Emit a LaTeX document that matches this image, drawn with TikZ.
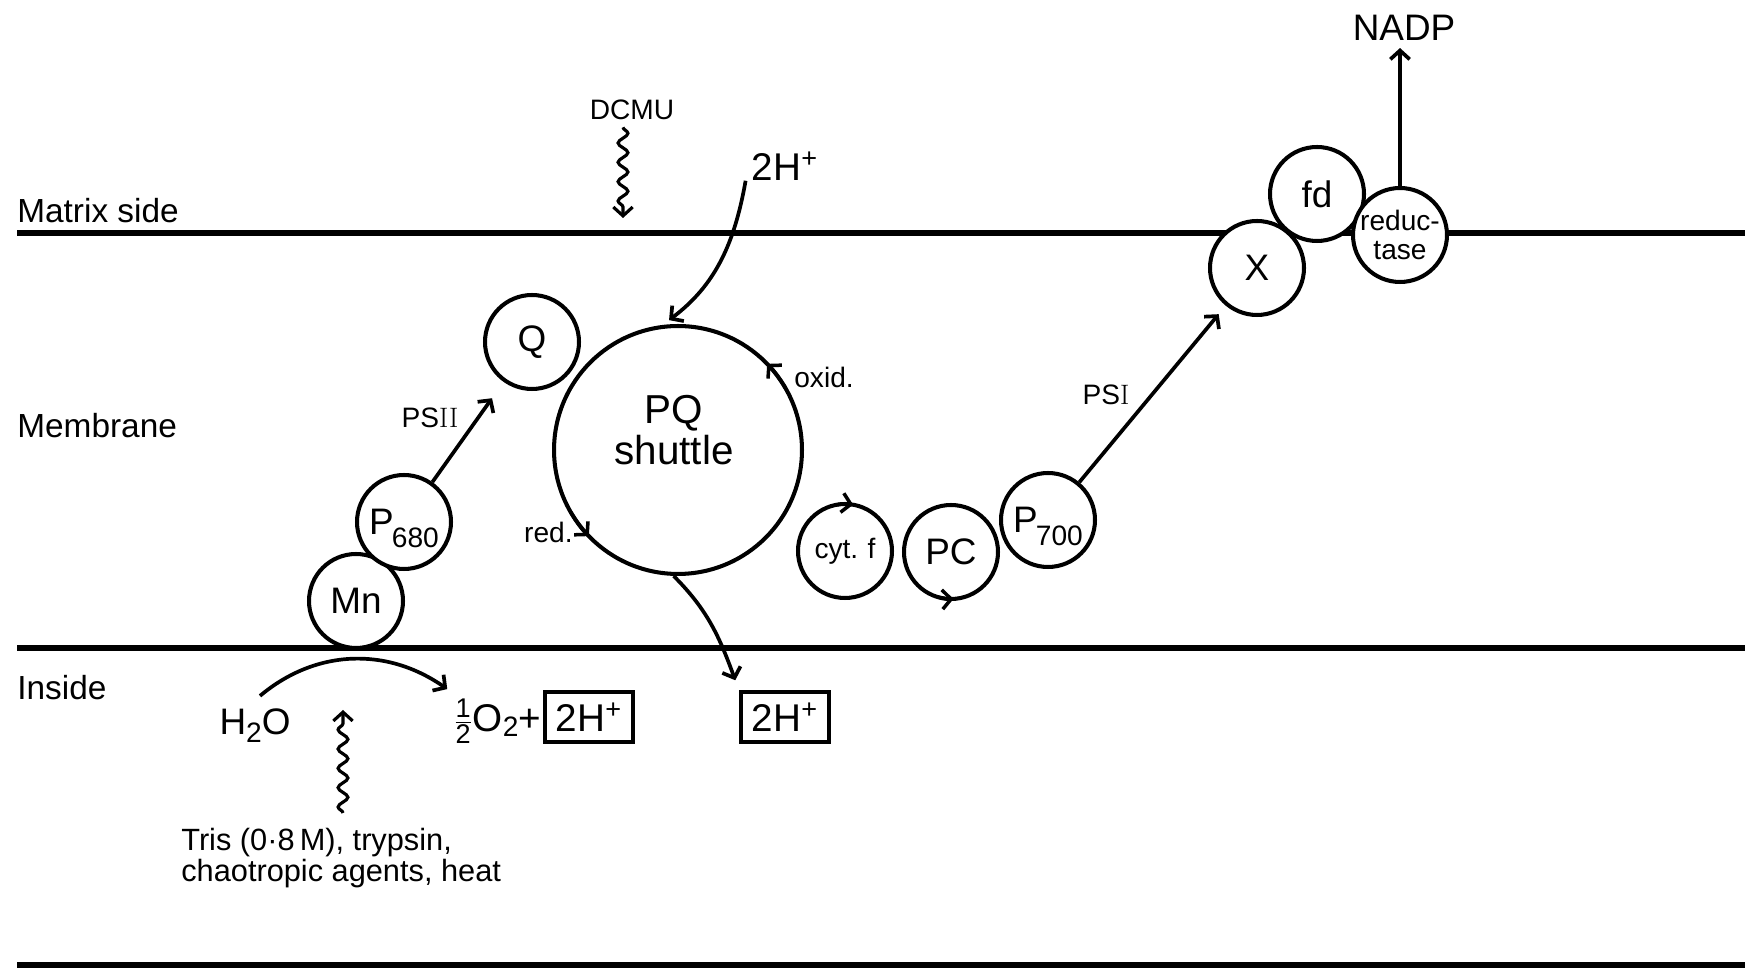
\documentclass[tikz,border=0pt]{standalone}
\usepackage{amsmath}
\usepackage{fontspec}
\setsansfont{Liberation Sans}
\usetikzlibrary{arrows.meta,positioning,calc,decorations.pathmorphing}

\newcommand{\fsz}[1]{\fontsize{#1}{#1}\selectfont}
\newcommand{\subidx}[2][7.5pt]{\smash{\raisebox{-#1}{\fsz{16}#2}}}
\newcommand{\romnum}[1]{{\rmfamily #1}}

\begin{document}
\begin{tikzpicture}[x=0.02cm,y=0.02cm,
  >={Straight Barb[length=5pt,width=11pt]},
  side/.style={font=\sffamily\fsz{19},inner sep=0,anchor=west},
  txt/.style={font=\sffamily\fsz{22},inner sep=0},
  sml/.style={font=\sffamily\fsz{16},inner sep=0},
  mol/.style={circle,draw,fill=white,line width=2.3pt,inner sep=0,minimum size=1.88cm,font=\sffamily\fsz{21}},
  memline/.style={line width=3pt},
  conn/.style={->,line width=2.1pt},
  chev/.style={->,line width=2pt},
  wavy/.style={->,line width=1.8pt,decorate,decoration={snake,amplitude=2.8pt,segment length=11pt,post length=5pt}},
  hbox/.style={draw,line width=2pt,inner sep=0,minimum width=1.76cm,minimum height=1cm,font=\sffamily\fsz{22}}]
  \useasboundingbox (0,0) rectangle (1759,970);
  % membrane and sides
  \draw[memline] (17,737) -- (1745,737);
  \draw[memline] (17,322) -- (1745,322);
  \draw[memline] (17,5) -- (1745,5);
  \node[side] (matrix) at (17,759) {Matrix side};
  \node[side] (membrane) at (17,544) {Membrane};
  \node[side] (inside) at (17,282) {Inside};

  % photosystem II
  \node[mol] (mn) at (356,369) {Mn};
  \node[mol] (p680) at (404,448) {P\kern-1pt\subidx{680}};
  \node[mol] (q) at (532,628) {Q};
  \draw[conn,shorten >=0.4cm] (p680) -- (q);
  \node[sml] (psii) at (430,552) {PS\romnum{II}};

  % DCMU
  \node[sml] (dcmu) at (632,860) {DCMU};
  \coordinate (dcmutip) at (623,752);
  \draw[wavy] ($(dcmu.south)+(-9,-7)$) -- (dcmutip);

  % plastoquinone pool
  \node[mol,minimum size=4.96cm] (pq) at (678,520) {};
  \node[txt,align=center,font=\sffamily\fsz{23}] (pqlbl) at (674,540) {PQ\\shuttle};
  \node[sml,anchor=west] (oxid) at (794,593) {oxid.};
  \node[sml,anchor=east] (redlbl) at (573,438) {red.};
  \draw[chev] ([shift={(30:124)}]pq.center) arc[start angle=30,end angle=44,radius=124];
  \draw[chev] ([shift={(210:124)}]pq.center) arc[start angle=210,end angle=224,radius=124];
  \node[txt] (hplus1) at (785,804) {2H\textsuperscript{+}};
  \draw[conn,shorten >=0.16cm] ($(hplus1.south west)+(-6,0)$) to[out=-100,in=37] (pq.97);

  % electron carriers
  \node[mol,font=\sffamily\fsz{16}] (cyt) at (845,419) {cyt.\,\,f};
  \node[mol] (pc) at (951,418) {PC};
  \node[mol] (p700) at (1048,450) {P\kern-1pt\subidx{700}};
  \draw[chev] ([shift={(100:47)}]cyt.center) arc[start angle=100,end angle=80,radius=47];
  \draw[chev] ([shift={(-105:47)}]pc.center) arc[start angle=-105,end angle=-87,radius=47];

  % photosystem I
  \node[mol] (x) at (1257,702) {X};
  \draw[conn,shorten >=0.22cm] (p700) -- (x);
  \node[sml] (psi) at (1106,575) {PS\romnum{I}};
  \node[mol] (fd) at (1317,776) {fd};
  \node[mol,align=center,font=\sffamily\fsz{16}] (reduct) at (1400,735) {reduc-\\tase};
  \node[txt,font=\sffamily\fsz{21}] (nadp) at (1404,942) {NADP};
  \draw[conn,shorten >=0.14cm] (reduct) -- (reduct |- nadp.south);

  % inside: water splitting
  \node[hbox] (hplus0) at (589,253) {2H\textsuperscript{+}};
  \node[txt,anchor=base east] (o2) at ([xshift=-1pt]hplus0.base west) {$\frac{\text{1}}{\text{2}}$O\subidx[3pt]{2}+};
  \node[txt,font=\sffamily\fsz{21},anchor=base] (h2o) at (255,235) {H\subidx[4pt]{2}O};
  \draw[conn] ($(h2o.north)+(5,13)$) to[out=40,in=145] ($(o2.north west)+(-6,9)$);
  \node[hbox] (hplus2) at (785,253) {2H\textsuperscript{+}};
  \draw[conn] (pq.-92) to[out=-45,in=110] ($(hplus2.north west)+(-4,10)$);

  % inhibitors
  \node[font=\sffamily\fsz{17.5},inner sep=0,align=left,anchor=north west] (tris) at (181,142) {Tris (0·8\,M), trypsin,\\chaotropic agents, heat};
  \coordinate (tristip) at (343,260);
  \draw[wavy] ($(tris.north west)+(162,15)$) -- (tristip);
\end{tikzpicture}
\end{document}
